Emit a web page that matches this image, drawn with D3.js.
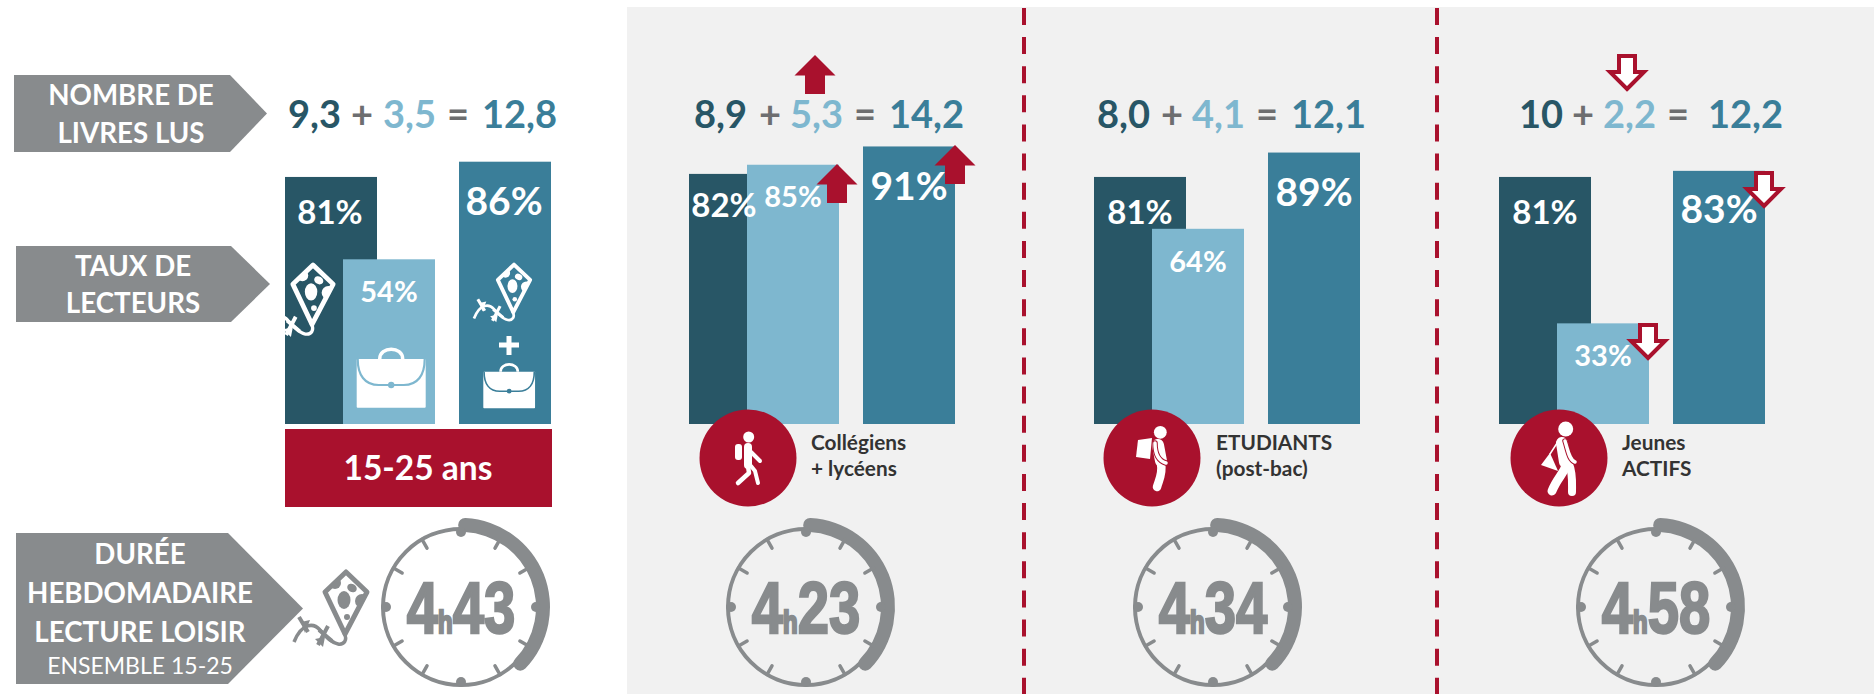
<!DOCTYPE html>
<html lang="fr">
<head>
<meta charset="utf-8">
<title>Lecture 15-25 ans</title>
<script src="https://cdn.jsdelivr.net/npm/d3@7"></script>
<style>
  html, body { margin: 0; padding: 0; background: #fff; }
  svg { display: block; }
  text { font-family: Lato, Carlito, "Open Sans", sans-serif; font-weight: 700; }
</style>
</head>
<body>
<svg width="1874" height="694"></svg>
<script>
// values
const GROUPS    = ["15-25 ans", "Collégiens", "Etudiants", "Jeunes actifs"];
const SERIES    = ["loisir", "scolaire", "total"];
const RATE_LOISIR   = [81, 82, 81, 81];
const RATE_SCOLAIRE = [54, 85, 64, 33];
const RATE_TOTAL    = [86, 91, 89, 83];
const BOOKS_LOISIR   = ["9,3", "8,9", "8,0", "10"];
const BOOKS_SCOLAIRE = ["3,5", "5,3", "4,1", "2,2"];
const BOOKS_TOTAL    = ["12,8", "14,2", "12,1", "12,2"];
const HOURS   = ["4", "4", "4", "4"];
const MINUTES = ["43", "23", "34", "58"];
const GROUP_LINES = [null, ["Collégiens", "+ lycéens"], ["ETUDIANTS", "(post-bac)"], ["Jeunes", "ACTIFS"]];

const COLOR = {loisir: "#285666", scolaire: "#7eb7cf", total: "#3a7e99", red: "#a9112d",
               grey: "#888b8d", op: "#6d6e70", panel: "#f1f1f1", dark: "#333"};

// layout
const PANEL_X   = [285, 689, 1094, 1499];
const CLOCK_X   = [461, 806, 1213, 1656];
const CIRCLE_X  = [null, 748, 1152, 1559];
const CAPTION_X = [null, 811, 1216, 1622];
const EQ_X = [[288, 351, 383, 447, 482],
              [694, 759, 790, 854, 889],
              [1097, 1161, 1192, 1256, 1291],
              [1519, 1572, 1603, 1667, 1708]];
const LABEL_POS = {
  loisir:   [[330, 224, 33], [724, 217, 33], [1140, 224, 33], [1545, 224, 33]],
  scolaire: [[389, 302, 29], [793, 207, 29], [1198, 272, 29], [1603, 366, 29]],
  total:    [[504, 215, 39], [909, 200, 39], [1314, 206, 39], [1719, 223, 39]]
};

const svg = d3.select("svg");

const y = d3.scaleLinear().domain([0, 100]).range([424, 119]);
const xOffset = d3.scaleOrdinal().domain(SERIES).range([0, 58, 174]);
const BAR_W = 92;

const rates = {loisir: RATE_LOISIR, scolaire: RATE_SCOLAIRE, total: RATE_TOTAL};

const drawWalker = {
  1: g => {
    g.append("circle").attr("cx", 0.7).attr("cy", -21).attr("r", 5.5).attr("fill", "#fff");
    g.append("rect").attr("x", -13).attr("y", -14).attr("width", 7).attr("height", 16).attr("rx", 3).attr("fill", "#fff");
    strokes(g, [
      ["M0 -11 L0 7", 8],
      ["M3 -6 L12 3", 4],
      ["M0 8 L1 15 L-10 25", 4.5],
      ["M3 8 L7 13 L10 25", 4]
    ]);
  },
  2: g => {
    g.append("circle").attr("cx", 8.3).attr("cy", -25.7).attr("r", 6.4).attr("fill", "#fff");
    g.append("polygon").attr("points", "-14,-18 0,-20 -2,1 -16,-1").attr("fill", "#fff");
    strokes(g, [
      ["M6 -13 L9 3", 12],
      ["M9 6 C11 15 7 22 5 29", 8.5],
      ["M3 -15 C3 -3 7 3 14 5", 5.5, COLOR.red],
      ["M3 -15 C3 -3 7 3 14 5", 3.5]
    ]);
  },
  3: g => {
    g.append("circle").attr("cx", 6.7).attr("cy", -29).attr("r", 7.5).attr("fill", "#fff");
    g.append("polygon").attr("points", "-18,7 -9,-5 -1,13").attr("fill", "#fff");
    strokes(g, [
      ["M-9 -4 L0 -18", 1.5],
      ["M3 -15 L6 4", 12],
      ["M7 6 C7 13 -2 20 -7 33", 9],
      ["M10 6 C14 15 13 25 13 34", 8],
      ["M6 -17 C9 -8 10 2 16 4", 5.5, COLOR.red],
      ["M6 -17 C9 -8 10 2 16 4", 3.5]
    ]);
  }
};

drawBackground();
drawLabels();
drawEquations();
drawBars();
drawPanelOneIcons();
drawGroupBadges();
drawArrows();
drawClocks();


function drawBackground() {
  svg.append("rect")
    .attr("x", 627).attr("y", 7)
    .attr("width", 1247).attr("height", 687)
    .attr("fill", COLOR.panel);

  svg.selectAll(".sep")
    .data([1024, 1437])
    .enter().append("line")
      .attr("class", "sep")
      .attr("x1", d => d).attr("x2", d => d)
      .attr("y1", 8).attr("y2", 694)
      .attr("stroke", COLOR.red)
      .attr("stroke-width", 4)
      .attr("stroke-dasharray", "17 12.12");
}


function drawLabels() {
  let shapes = [
    {x: 14, x2: 230, tip: 267, y0: 75,  y1: 152},
    {x: 16, x2: 231, tip: 270, y0: 246, y1: 322},
    {x: 16, x2: 228, tip: 303, y0: 533, y1: 684}
  ];
  svg.selectAll(".chevron")
    .data(shapes)
    .enter().append("polygon")
      .attr("class", "chevron")
      .attr("fill", COLOR.grey)
      .attr("points", d => [[d.x, d.y0], [d.x2, d.y0], [d.tip, (d.y0 + d.y1) / 2], [d.x2, d.y1], [d.x, d.y1]].join(" "));

  let lines = [
    ["NOMBRE DE", 131, 105, 27.7, 700],
    ["LIVRES LUS", 131, 143, 27.7, 700],
    ["TAUX DE", 133, 276, 27.7, 700],
    ["LECTEURS", 133, 313, 27.7, 700],
    ["DURÉE", 140, 564, 27.7, 700],
    ["HEBDOMADAIRE", 140, 603, 27.7, 700],
    ["LECTURE LOISIR", 140, 642, 27.7, 700],
    ["ENSEMBLE 15-25", 140, 674, 23, 400]
  ];
  svg.selectAll(".chev-text")
    .data(lines)
    .enter().append("text")
      .attr("class", "chev-text")
      .attr("x", d => d[1]).attr("y", d => d[2])
      .attr("text-anchor", "middle")
      .attr("fill", "#fff")
      .style("font-size", d => d[3] + "px")
      .style("font-weight", d => d[4])
      .text(d => d[0]);
}


function drawEquations() {
  GROUPS.forEach((g, i) => {
    let tokens = [
      [BOOKS_LOISIR[i], COLOR.loisir], ["+", COLOR.op],
      [BOOKS_SCOLAIRE[i], COLOR.scolaire], ["=", COLOR.op],
      [BOOKS_TOTAL[i], COLOR.total]
    ];
    svg.append("g").selectAll("text")
      .data(tokens)
      .enter().append("text")
        .attr("x", (d, k) => EQ_X[i][k])
        .attr("y", 128)
        .attr("fill", d => d[1])
        .style("font-size", "38px")
        .text(d => d[0]);
  });
}


function drawBars() {
  SERIES.forEach(s => {
    svg.append("g").selectAll("rect")
      .data(rates[s])
      .enter().append("rect")
        .attr("x", (d, i) => PANEL_X[i] + xOffset(s))
        .attr("y", d => y(d))
        .attr("width", BAR_W)
        .attr("height", d => y(0) - y(d))
        .attr("fill", COLOR[s]);
  });

  SERIES.forEach(s => {
    svg.append("g").selectAll("text")
      .data(rates[s])
      .enter().append("text")
        .attr("x", (d, i) => LABEL_POS[s][i][0])
        .attr("y", (d, i) => LABEL_POS[s][i][1])
        .attr("text-anchor", "middle")
        .attr("fill", "#fff")
        .style("font-size", (d, i) => LABEL_POS[s][i][2] + "px")
        .text(d => d + "%");
  });
}


function drawPanelOneIcons() {
  svg.append("rect")
    .attr("x", 285).attr("y", 429)
    .attr("width", 267).attr("height", 78)
    .attr("fill", COLOR.red);
  svg.append("text")
    .attr("x", 418).attr("y", 480)
    .attr("text-anchor", "middle")
    .attr("fill", "#fff")
    .style("font-size", "33.5px")
    .text(GROUPS[0]);

  svg.append("defs").append("clipPath")
    .attr("id", "kiteClip")
    .append("polygon")
      .attr("points", "0,2 -21,22 -1,64 21,22");

  drawKite(313, 263, 0.96, "#fff", COLOR.loisir);
  drawKite(514, 263, 0.77, "#fff", COLOR.total);
  drawKite(346, 570, 1, COLOR.grey, "#fff");

  drawBag(356.7, 359, 1, COLOR.scolaire);
  drawBag(483.3, 371.7, 0.75, COLOR.total);

  svg.append("path")
    .attr("d", "M509 336V355M499 345H519")
    .attr("stroke", "#fff")
    .attr("stroke-width", 5)
    .attr("fill", "none");
}


function drawKite(px, py, s, fg, bg) {
  let g = svg.append("g").attr("transform", `translate(${px},${py}) scale(${s})`);

  g.append("path")
    .attr("d", "M-2 63 C2 70 -2 75 -8 74 C-15 73 -20 66 -26 60 C-32 53 -44 52 -52 72")
    .attr("fill", "none")
    .attr("stroke", fg)
    .attr("stroke-width", 3.5);
  g.append("path")
    .attr("d", "M-28 75 L-18 56 M-27 60 L-14 71 M-47 47 L-38 62")
    .attr("stroke", fg)
    .attr("stroke-width", 4);
  g.append("path")
    .attr("d", "M-31 69 L-23 77 L-21 67 Z M-45 52 L-36 50 L-41 63 Z")
    .attr("fill", fg);

  g.append("polygon")
    .attr("points", "0,2 -21,22 -1,64 21,22")
    .attr("fill", bg)
    .attr("stroke", fg)
    .attr("stroke-width", 5)
    .attr("stroke-linejoin", "round");

  let spots = g.append("g").attr("clip-path", "url(#kiteClip)").attr("fill", fg);
  spots.append("ellipse").attr("cx", -2).attr("cy", 30).attr("rx", 6.5).attr("ry", 9);
  spots.append("ellipse").attr("cx", 6).attr("cy", 18).attr("rx", 5).attr("ry", 4)
    .attr("transform", "rotate(30 6 18)");
  spots.append("circle").attr("cx", -11).attr("cy", 13).attr("r", 6);
  spots.append("circle").attr("cx", 16).attr("cy", 31).attr("r", 7);
  spots.append("circle").attr("cx", 1).attr("cy", 47).attr("r", 3);
}


function drawBag(px, py, s, bg) {
  let g = svg.append("g").attr("transform", `translate(${px},${py}) scale(${s})`);

  g.append("path")
    .attr("d", "M23 0 C23 -13 46 -13 46 0")
    .attr("fill", "none")
    .attr("stroke", "#fff")
    .attr("stroke-width", 3.5);
  g.append("rect")
    .attr("width", 69).attr("height", 48.7)
    .attr("rx", 1)
    .attr("fill", "#fff");
  g.append("path")
    .attr("d", "M1 0 C1 16 8 26 22 26 H47 C61 26 68 16 68 0")
    .attr("fill", "none")
    .attr("stroke", bg)
    .attr("stroke-width", 2.2);
  g.append("circle")
    .attr("cx", 34.5).attr("cy", 26).attr("r", 3.2)
    .attr("fill", bg);
}


function drawGroupBadges() {
  GROUPS.forEach((name, i) => {
    if (i == 0) return;

    let g = svg.append("g").attr("transform", `translate(${CIRCLE_X[i]},458)`);
    g.append("circle").attr("r", 48.5).attr("fill", COLOR.red);
    drawWalker[i](g);

    svg.append("g").selectAll("text")
      .data(GROUP_LINES[i])
      .enter().append("text")
        .attr("x", CAPTION_X[i])
        .attr("y", (d, k) => 450 + k * 25.5)
        .attr("fill", COLOR.dark)
        .style("font-size", "20.8px")
        .text(d => d);
  });
}

function strokes(g, list) {
  list.forEach(d => {
    g.append("path")
      .attr("d", d[0])
      .attr("fill", "none")
      .attr("stroke", d[2] || "#fff")
      .attr("stroke-width", d[1])
      .attr("stroke-linecap", "round")
      .attr("stroke-linejoin", "round");
  });
}


function drawArrows() {
  // x,y is the tip of each arrow
  let up      = [[815, 55], [837, 164], [955, 145]],
      down    = [[1627, 89], [1648, 358], [1764, 206]],
      upShape = [[0, 0], [20.5, 20.5], [10, 20.5], [10, 39], [-10, 39], [-10, 20.5], [-20.5, 20.5]],
      dnShape = [[0, 0], [17, -17], [8, -17], [8, -33], [-8, -33], [-8, -17], [-17, -17]];

  svg.selectAll(".up")
    .data(up)
    .enter().append("polygon")
      .attr("class", "up")
      .attr("points", d => upShape.map(p => [d[0] + p[0], d[1] + p[1]]).join(" "))
      .attr("fill", COLOR.red);

  svg.selectAll(".down")
    .data(down)
    .enter().append("polygon")
      .attr("class", "down")
      .attr("points", d => dnShape.map(p => [d[0] + p[0], d[1] + p[1]]).join(" "))
      .attr("fill", "#fff")
      .attr("stroke", COLOR.red)
      .attr("stroke-width", 4);
}


function drawClocks() {
  const R = 78;
  const ticks = d3.range(12);
  const arc = d3.arc()
    .innerRadius(75).outerRadius(89)
    .startAngle(-2 * Math.PI / 180)
    .endAngle(138.6 * Math.PI / 180)
    .cornerRadius(7);

  CLOCK_X.forEach((cx, i) => {
    let g = svg.append("g").attr("transform", `translate(${cx},607)`);

    g.append("circle")
      .attr("r", R)
      .attr("fill", "none")
      .attr("stroke", COLOR.grey)
      .attr("stroke-width", 4);

    g.append("path").attr("d", arc).attr("fill", COLOR.grey);

    g.selectAll(".tick")
      .data(ticks.filter(d => d % 3 != 0))
      .enter().append("line")
        .attr("class", "tick")
        .attr("x1", d => Math.sin(d * Math.PI / 6) * R)
        .attr("y1", d => -Math.cos(d * Math.PI / 6) * R)
        .attr("x2", d => Math.sin(d * Math.PI / 6) * (R - 10))
        .attr("y2", d => -Math.cos(d * Math.PI / 6) * (R - 10))
        .attr("stroke", COLOR.grey)
        .attr("stroke-width", 3.5)
        .attr("stroke-linecap", "round");

    g.selectAll(".major")
      .data(ticks.filter(d => d % 3 == 0))
      .enter().append("circle")
        .attr("class", "major")
        .attr("cx", d => Math.sin(d * Math.PI / 6) * (R - 3))
        .attr("cy", d => -Math.cos(d * Math.PI / 6) * (R - 3))
        .attr("r", 5)
        .attr("fill", COLOR.grey);

    // the original numerals are a condensed heavy face, so squeeze a bold one
    let t = g.append("text")
      .attr("y", 26)
      .attr("transform", "scale(0.77,1)")
      .attr("text-anchor", "middle")
      .attr("fill", COLOR.grey)
      .attr("stroke", COLOR.grey)
      .attr("stroke-width", 2.4)
      .style("font-family", "'Liberation Sans', sans-serif");
    t.append("tspan").style("font-size", "73px").text(HOURS[i]);
    t.append("tspan").style("font-size", "31px").text("h");
    t.append("tspan").style("font-size", "73px").text(MINUTES[i]);
  });
}
</script>
</body>
</html>
